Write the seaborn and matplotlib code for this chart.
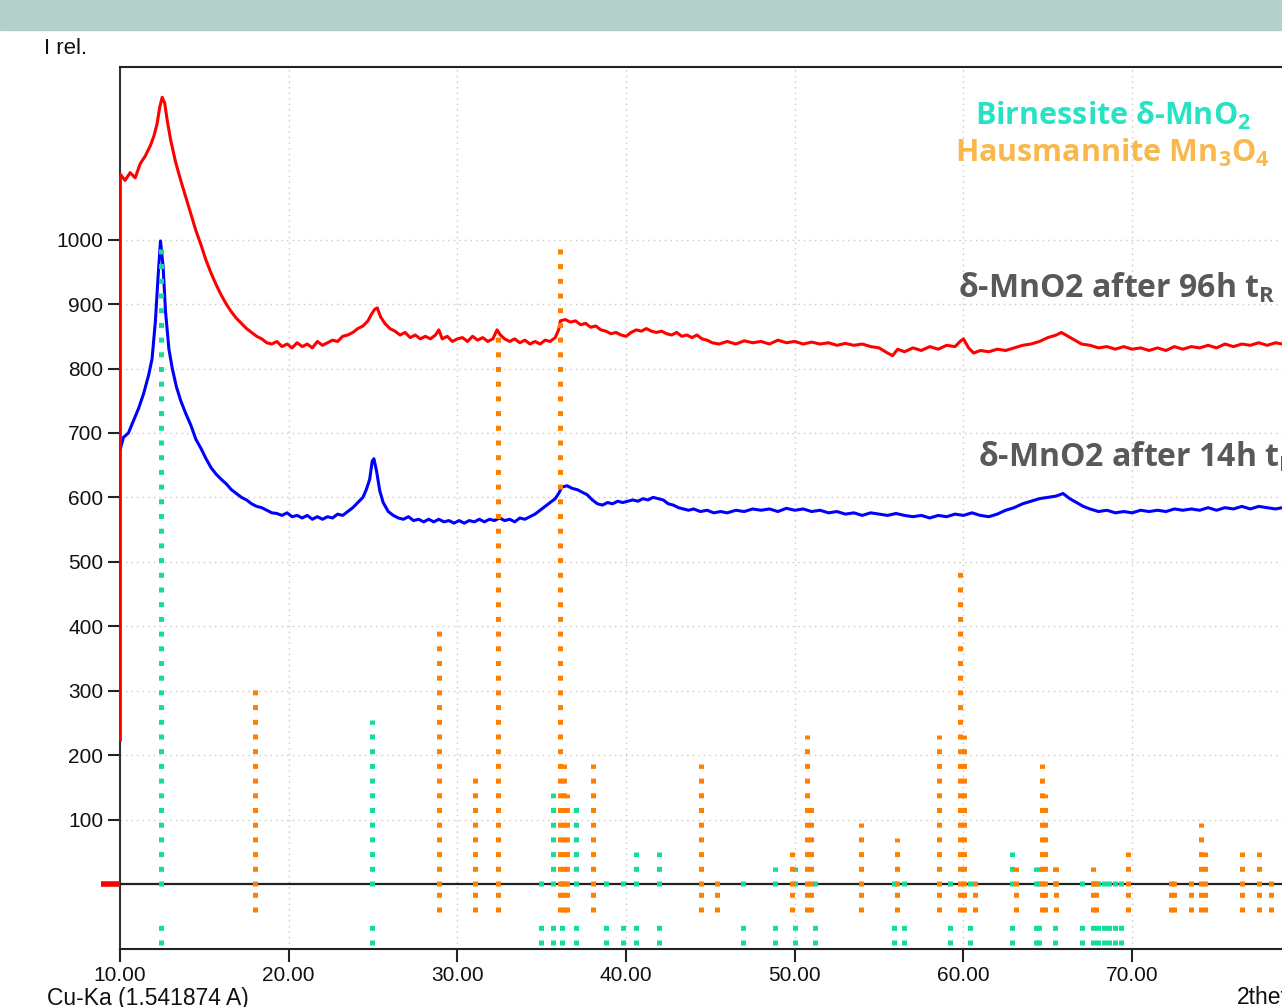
import numpy as np
import pandas as pd
import matplotlib
matplotlib.use('Agg')
import matplotlib.pyplot as plt
from matplotlib.patches import Rectangle
import seaborn as sns

sns.set_theme(style='white')
plt.rcParams['font.family'] = ['Liberation Sans', 'DejaVu Sans']
plt.rcParams['mathtext.fontset'] = 'custom'
plt.rcParams['mathtext.rm'] = 'Open Sans:bold'
plt.rcParams['mathtext.default'] = 'rm'

# measured pattern, 96h (red)
tt_96h = [10.0, 10.3, 10.6, 10.9, 11.2, 11.5, 11.8, 12.0, 12.2, 12.35, 12.5, 12.65, 12.8, 13.0, 13.3, 13.6,
          13.9, 14.2, 14.5, 14.8, 15.1, 15.4, 15.7, 16.0, 16.3, 16.6, 16.9, 17.2, 17.5, 17.8, 18.1, 18.4,
          18.7, 19.0, 19.3, 19.6, 19.9, 20.2, 20.5, 20.8, 21.1, 21.4, 21.7, 22.0, 22.3, 22.6, 22.9, 23.2,
          23.5, 23.8, 24.1, 24.4, 24.7, 24.9, 25.1, 25.25, 25.45, 25.7, 26.0, 26.3, 26.6, 26.9, 27.2, 27.5,
          27.8, 28.1, 28.4, 28.7, 28.9, 29.1, 29.4, 29.7, 30.0, 30.3, 30.6, 30.9, 31.2, 31.5, 31.8, 32.1,
          32.35, 32.55, 32.8, 33.1, 33.4, 33.7, 34.0, 34.3, 34.6, 34.9, 35.2, 35.5, 35.8, 36.0, 36.1, 36.4,
          36.7, 37.0, 37.3, 37.6, 37.9, 38.2, 38.5, 38.8, 39.1, 39.4, 39.7, 40.0, 40.3, 40.6, 40.9, 41.2,
          41.5, 41.8, 42.1, 42.4, 42.7, 43.0, 43.3, 43.6, 43.9, 44.2, 44.5, 44.8, 45.1, 45.5, 46.0, 46.5,
          47.0, 47.5, 48.0, 48.5, 49.0, 49.5, 50.0, 50.5, 51.0, 51.5, 52.0, 52.5, 53.0, 53.5, 54.0, 54.5,
          55.0, 55.5, 55.8, 56.1, 56.5, 57.0, 57.5, 58.0, 58.5, 59.0, 59.5, 59.8, 60.0, 60.3, 60.6, 61.0,
          61.5, 62.0, 62.5, 63.0, 63.5, 64.0, 64.5, 65.0, 65.5, 65.8, 66.2, 66.6, 67.0, 67.5, 68.0, 68.5,
          69.0, 69.5, 70.0, 70.5, 71.0, 71.5, 72.0, 72.5, 73.0, 73.5, 74.0, 74.5, 75.0, 75.5, 76.0, 76.5,
          77.0, 77.5, 78.0, 78.5, 78.9]
i_96h = [1102, 1092, 1104, 1096, 1118, 1130, 1146, 1160, 1180, 1205, 1221, 1212, 1185, 1155, 1120, 1092,
         1066, 1040, 1014, 992, 968, 948, 930, 914, 900, 888, 878, 870, 862, 856, 850, 846,
         840, 838, 842, 834, 838, 832, 840, 834, 838, 832, 842, 836, 840, 844, 842, 850,
         852, 856, 862, 866, 874, 884, 892, 894, 880, 870, 862, 858, 852, 856, 848, 852,
         846, 850, 846, 852, 860, 846, 850, 842, 846, 848, 842, 850, 844, 848, 842, 846,
         860, 852, 846, 842, 846, 840, 844, 838, 842, 838, 844, 842, 848, 860, 874, 876,
         872, 874, 868, 870, 864, 866, 860, 858, 854, 856, 852, 850, 856, 860, 858, 862,
         858, 856, 858, 854, 852, 856, 850, 852, 848, 852, 846, 844, 840, 838, 842, 838,
         843, 840, 842, 838, 844, 840, 842, 838, 841, 838, 840, 836, 839, 836, 838, 834,
         832, 824, 820, 830, 826, 832, 828, 834, 830, 836, 834, 842, 846, 832, 824, 828,
         826, 830, 828, 832, 836, 838, 842, 848, 852, 856, 850, 844, 838, 836, 832, 834,
         830, 834, 830, 832, 828, 832, 828, 834, 830, 834, 832, 836, 832, 838, 834, 838,
         836, 840, 836, 840, 838]
i_96h_start = 222

# measured pattern, 14h (blue)
tt_14h = [10.0, 10.2, 10.5, 10.8, 11.1, 11.4, 11.7, 11.9, 12.1, 12.25, 12.4, 12.55, 12.7, 12.9, 13.1, 13.35,
          13.6, 13.9, 14.2, 14.5, 14.8, 15.1, 15.4, 15.7, 16.0, 16.3, 16.6, 16.9, 17.2, 17.5, 17.8, 18.1,
          18.4, 18.7, 19.0, 19.3, 19.6, 19.9, 20.2, 20.5, 20.8, 21.1, 21.4, 21.7, 22.0, 22.3, 22.6, 22.9,
          23.2, 23.5, 23.8, 24.1, 24.4, 24.6, 24.8, 24.95, 25.05, 25.2, 25.4, 25.6, 25.9, 26.2, 26.5, 26.8,
          27.1, 27.4, 27.7, 28.0, 28.3, 28.6, 28.9, 29.2, 29.5, 29.8, 30.1, 30.4, 30.7, 31.0, 31.3, 31.6,
          31.9, 32.2, 32.5, 32.8, 33.1, 33.4, 33.7, 34.0, 34.3, 34.6, 34.9, 35.2, 35.5, 35.8, 36.0, 36.2,
          36.5, 36.8, 37.1, 37.4, 37.7, 38.0, 38.3, 38.6, 38.9, 39.2, 39.5, 39.8, 40.1, 40.4, 40.7, 41.0,
          41.3, 41.6, 41.9, 42.2, 42.5, 42.8, 43.1, 43.4, 43.7, 44.0, 44.4, 44.8, 45.2, 45.6, 46.0, 46.5,
          47.0, 47.5, 48.0, 48.5, 49.0, 49.5, 50.0, 50.5, 51.0, 51.5, 52.0, 52.5, 53.0, 53.5, 54.0, 54.5,
          55.0, 55.5, 56.0, 56.5, 57.0, 57.5, 58.0, 58.5, 59.0, 59.5, 60.0, 60.5, 61.0, 61.5, 62.0, 62.5,
          63.0, 63.5, 64.0, 64.5, 65.0, 65.5, 65.9, 66.3, 66.7, 67.1, 67.5, 68.0, 68.5, 69.0, 69.5, 70.0,
          70.5, 71.0, 71.5, 72.0, 72.5, 73.0, 73.5, 74.0, 74.5, 75.0, 75.5, 76.0, 76.5, 77.0, 77.5, 78.0,
          78.5, 78.9]
i_14h = [673, 693, 700, 719, 738, 761, 790, 815, 874, 940, 998, 960, 888, 830, 800, 771,
         750, 730, 712, 690, 676, 660, 646, 636, 628, 621, 612, 606, 600, 596, 590, 586,
         584, 580, 576, 575, 572, 576, 570, 572, 568, 572, 566, 570, 566, 570, 568, 574,
         572, 578, 584, 592, 600, 612, 628, 656, 660, 642, 610, 592, 578, 572, 568, 566,
         570, 564, 566, 562, 566, 562, 566, 562, 564, 560, 564, 560, 564, 562, 566, 562,
         566, 564, 568, 564, 566, 562, 568, 566, 570, 574, 580, 586, 592, 598, 606, 616,
         618, 614, 612, 608, 604, 596, 590, 588, 592, 590, 594, 592, 594, 596, 594, 598,
         596, 600, 598, 596, 590, 588, 584, 582, 580, 582, 578, 580, 576, 578, 576, 580,
         578, 582, 580, 582, 578, 583, 580, 582, 578, 580, 576, 578, 574, 576, 572, 576,
         574, 572, 575, 572, 570, 572, 568, 572, 570, 574, 572, 576, 572, 570, 574, 580,
         584, 590, 594, 598, 600, 602, 606, 598, 592, 586, 582, 578, 580, 576, 578, 576,
         580, 578, 580, 578, 582, 580, 582, 580, 584, 580, 584, 582, 586, 582, 586, 584,
         582, 584]

# reference sticks: Birnessite delta-MnO2
birn_pos = [12.45, 24.95, 34.95, 35.65, 36.2, 37.05, 38.8, 39.8, 40.6, 41.95, 46.9, 48.8, 50.0, 51.2,
            55.9, 56.45, 59.2, 60.4, 62.9, 64.3, 64.5, 65.4, 67.0, 67.7, 68.0, 68.3, 68.6, 69.0, 69.35]
birn_int = [985, 250, 0, 137, 0, 115, 0, 0, 45, 45, 0, 23, 23, 0,
            0, 0, 0, 0, 45, 23, 23, 23, 0, 0, 0, 0, 0, 0, 0]

# reference sticks: Hausmannite Mn3O4
haus_pos = [18.0, 28.9, 31.05, 32.4, 36.1, 36.3, 36.5, 38.05, 44.45, 45.4, 49.85, 50.7, 50.95, 53.9,
            56.05, 58.55, 59.8, 60.05, 60.7, 63.1, 64.65, 64.85, 65.5, 67.65, 67.85, 69.75, 72.3, 72.45,
            73.5, 74.1, 74.3, 76.5, 77.5, 78.25]
haus_int = [300, 390, 160, 850, 985, 183, 136, 183, 183, 0, 45, 228, 115, 91,
            68, 228, 480, 228, 0, 23, 183, 136, 23, 23, 0, 45, 0, 0,
            0, 91, 45, 45, 45, 0]

x_ticks = [10, 20, 30, 40, 50, 60, 70]
y_ticks = [100, 200, 300, 400, 500, 600, 700, 800, 900, 1000]

green = '#12dd9a'
orange = '#ff8000'

fig = plt.figure(figsize=(12.82, 10.07), dpi=100)
fig.patches.append(Rectangle((0, 1 - 30 / 1007), 1, 30 / 1007, transform=fig.transFigure,
                             color='#b5d1cb', zorder=0))
ax = fig.add_axes([120 / 1282, 58 / 1007, 1162 / 1282, 882 / 1007])

df96 = pd.DataFrame({'2theta': tt_96h, 'I': i_96h})
df14 = pd.DataFrame({'2theta': tt_14h, 'I': i_14h})
sns.lineplot(data=df96, x='2theta', y='I', ax=ax, color='red', lw=2.2, sort=False, estimator=None, zorder=3)
sns.lineplot(data=df14, x='2theta', y='I', ax=ax, color='blue', lw=2.2, sort=False, estimator=None, zorder=3)
ax.vlines(tt_96h[0], i_96h_start, i_96h[0], color='red', lw=2, zorder=4, clip_on=False)

ax.axhline(0, color='#222222', lw=1.6, zorder=4)
ax.plot([8.85, 10], [0, 0], color='red', lw=4, solid_capstyle='butt', clip_on=False, zorder=5)

dots = dict(linewidths=3.6, linestyles=[(0, (1, 1.94))], zorder=6)
half = 3.9
ax.vlines(birn_pos, -half, np.array(birn_int) + half, color=green, **dots)
ax.vlines(birn_pos, -95, -64, color=green, **dots)
ax.vlines(haus_pos, -half, np.array(haus_int) + half, color=orange, **dots)
ax.vlines(haus_pos, -44.2, -9.5, color=orange, **dots)

ax.set_xlim(10, 78.88)
ax.set_ylim(-101, 1268)
ax.set_xticks(x_ticks)
ax.set_xticklabels([f'{t:.2f}' for t in x_ticks])
ax.set_yticks(y_ticks)
ax.set_xlabel('')
ax.set_ylabel('')
ax.grid(True, color='#c8c8c8', linestyle=(0, (1, 3)), linewidth=1)
ax.set_axisbelow(True)
ax.tick_params(axis='both', bottom=True, left=True, direction='out', length=9, width=1.5,
               colors='#222222', labelcolor='#111111', labelsize=15, pad=3)
for s in ['top', 'bottom']:
    ax.spines[s].set_color('#222222')
    ax.spines[s].set_linewidth(1.5)
ax.spines['right'].set_visible(False)
ax.spines['left'].set_color('#333333')
ax.spines['left'].set_linewidth(1.5)
ax.spines['left'].set_linestyle((0, (1, 1)))

fig.text(44 / 1282, 1 - 48 / 1007, 'I rel.', fontsize=16, va='center', ha='left', color='#111111')
fig.text(47 / 1282, 1 - 998 / 1007, 'Cu-Ka (1.541874 A)', fontsize=16.5, va='center', ha='left', color='#111111')
fig.text(1237 / 1282, 1 - 998 / 1007, '2theta', fontsize=16.5, va='center', ha='left', color='#111111')

lab_font = ['Open Sans', 'DejaVu Sans']
fig.text(975 / 1282, 1 - 125 / 1007, 'Birnessite δ-MnO$_2$', fontsize=22, fontweight='bold',
         family=lab_font, color='#27e3c4', ha='left', va='baseline')
fig.text(955 / 1282, 1 - 162 / 1007, 'Hausmannite Mn$_3$O$_4$', fontsize=22, fontweight='bold',
         family=lab_font, color='#f9b84b', ha='left', va='baseline')
fig.text(958 / 1282, 1 - 298 / 1007, 'δ-MnO2 after 96h t$_R$', fontsize=23, fontweight='bold',
         family=lab_font, color='#595959', ha='left', va='baseline')
fig.text(978 / 1282, 1 - 467 / 1007, 'δ-MnO2 after 14h t$_R$', fontsize=23, fontweight='bold',
         family=lab_font, color='#595959', ha='left', va='baseline')

fig.savefig('out.png', dpi=100)
